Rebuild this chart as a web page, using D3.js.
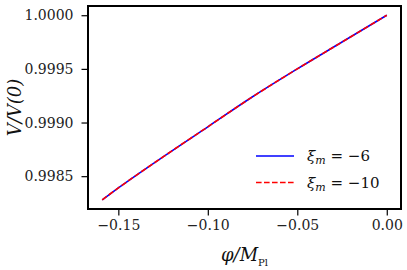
<!DOCTYPE html>
<html>
<head>
<meta charset="utf-8">
<style>
body { margin: 0; background: #fff; }
svg { display: block; }
.axis text { font-family: "DejaVu Serif", "Liberation Serif", "Times New Roman", serif; font-size: 14px; fill: #222; }
.axis path { display: none; }
.axis line { stroke: #000; stroke-width: 1.2; }
.lab { font-family: "DejaVu Serif", "Liberation Serif", "Times New Roman", serif; fill: #111; }
</style>
<script src="https://d3js.org/d3.v7.min.js"></script>
</head>
<body>
<div id="chart"></div>
<script>
// phi / M_Pl values
var phi = [-0.159, -0.15, -0.125, -0.10, -0.075, -0.05, -0.025, 0.0];
// V/V(0) for xi_m = -6 and xi_m = -10 (curves overlap)
var v6  = [0.99828, 0.99839, 0.99868, 0.99896, 0.99924, 0.99950, 0.99975, 1.00000];
var v10 = [0.99828, 0.99839, 0.99868, 0.99896, 0.99924, 0.99950, 0.99975, 1.00000];
var xTicks = [-0.15, -0.10, -0.05, 0.00];
var yTicks = [0.9985, 0.9990, 0.9995, 1.0000];
var legendLabels = ["\u2212" + "6", "\u2212" + "10"];

var W = 407, H = 270;
var margin = {top: 6, right: 6, bottom: 61, left: 88};
var width = W - margin.left - margin.right,
    height = H - margin.top - margin.bottom;

var x = d3.scaleLinear().domain([-0.16695, 0.00795]).range([0, width]);
var y = d3.scaleLinear().domain([0.998194, 1.000086]).range([height, 0]);

var svg = d3.select('#chart').append('svg')
  .attr('width', W).attr('height', H);
var g = svg.append('g')
  .attr('transform', 'translate(' + margin.left + ',' + margin.top + ')');

var fmtX = function(d) { return (d < 0 ? '\u2212' : '') + Math.abs(d).toFixed(2); };

g.append('g').attr('class', 'axis')
  .attr('transform', 'translate(0,' + height + ')')
  .call(d3.axisBottom(x).tickValues(xTicks).tickFormat(fmtX).tickSize(6.5).tickPadding(5));

g.append('g').attr('class', 'axis')
  .call(d3.axisLeft(y).tickValues(yTicks).tickFormat(d3.format('.4f')).tickSize(6.5).tickPadding(8));

var line = d3.line().curve(d3.curveMonotoneX)
  .x(function(d, i) { return x(phi[i]); }).y(function(d) { return y(d); });

g.append('path').datum(v6)
  .attr('fill', 'none').attr('stroke', '#0000ff').attr('stroke-width', 1.6)
  .attr('d', line);
g.append('path').datum(v10)
  .attr('fill', 'none').attr('stroke', '#ff0000').attr('stroke-width', 1.6)
  .attr('stroke-dasharray', '5.6,2.4')
  .attr('d', line);

// frame
g.append('rect').attr('width', width).attr('height', height)
  .attr('fill', 'none').attr('stroke', '#000').attr('stroke-width', 2);

// legend
var leg = g.append('g').attr('transform', 'translate(' + (256 - margin.left) + ',' + (156 - margin.top) + ')');
[['#0000ff', null], ['#ff0000', '5.6,2.4']].forEach(function(s, i) {
  var row = leg.append('g').attr('transform', 'translate(0,' + (i * 26.5) + ')');
  row.append('line').attr('x1', 0).attr('x2', 38).attr('y1', 0).attr('y2', 0)
    .attr('stroke', s[0]).attr('stroke-width', 1.6)
    .attr('stroke-dasharray', s[1]);
  var t = row.append('text').attr('class', 'lab').attr('x', 51).attr('y', 5).style('font-size', '15px');
  t.append('tspan').style('font-style', 'italic').text('\u03be');
  t.append('tspan').style('font-style', 'italic').style('font-size', '11px').attr('dy', 3).text('m');
  t.append('tspan').attr('dy', -3).text(' = ' + legendLabels[i]);
});

// axis labels
var xl = svg.append('text').attr('class', 'lab').attr('text-anchor', 'middle')
  .attr('x', margin.left + width / 2).attr('y', 261).style('font-size', '18px');
xl.append('tspan').style('font-style', 'italic').text('\u03c6/M');
xl.append('tspan').style('font-size', '10px').attr('dy', 5).text('Pl');

svg.append('text').attr('class', 'lab').attr('text-anchor', 'middle')
  .attr('transform', 'translate(21,' + (margin.top + height / 2) + ') rotate(-90)')
  .style('font-size', '18px').style('font-style', 'italic')
  .text('V/V(0)');
</script>
</body>
</html>
